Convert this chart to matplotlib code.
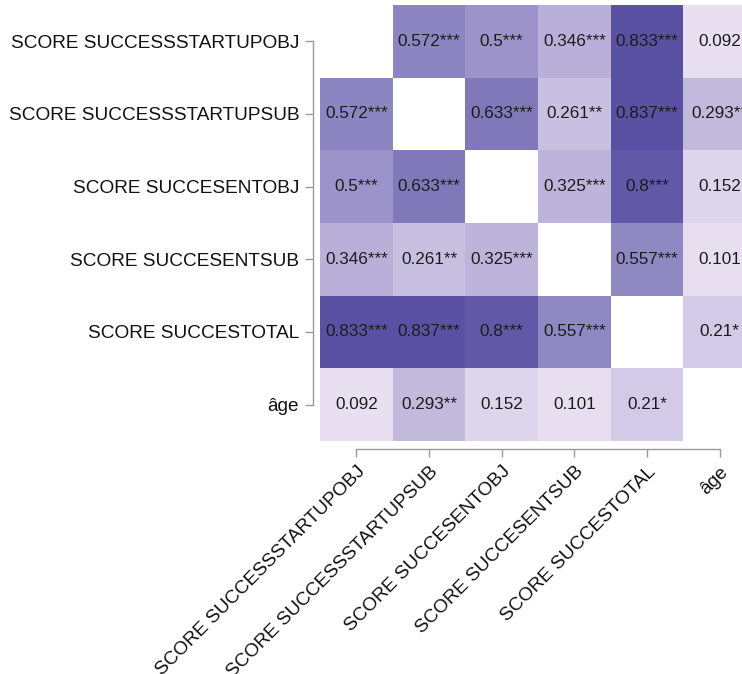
import numpy as np
import matplotlib
matplotlib.use("Agg")
import matplotlib.pyplot as plt
from matplotlib.colors import LinearSegmentedColormap

plt.rcParams['font.family'] = ['Liberation Sans', 'DejaVu Sans']

labels = ["SCORE SUCCESSSTARTUPOBJ", "SCORE SUCCESSSTARTUPSUB", "SCORE SUCCESENTOBJ",
          "SCORE SUCCESENTSUB", "SCORE SUCCESTOTAL", "âge"]

row_obj = [np.nan, 0.572, 0.5, 0.346, 0.833, 0.092]
row_sub = [0.572, np.nan, 0.633, 0.261, 0.837, 0.293]
row_entobj = [0.5, 0.633, np.nan, 0.325, 0.8, 0.152]
row_entsub = [0.346, 0.261, 0.325, np.nan, 0.557, 0.101]
row_total = [0.833, 0.837, 0.8, 0.557, np.nan, 0.21]
row_age = [0.092, 0.293, 0.152, 0.101, 0.21, np.nan]

stars_obj = ["", "***", "***", "***", "***", ""]
stars_sub = ["***", "", "***", "**", "***", "**"]
stars_entobj = ["***", "***", "", "***", "***", ""]
stars_entsub = ["***", "**", "***", "", "***", ""]
stars_total = ["***", "***", "***", "***", "", "*"]
stars_age = ["", "**", "", "", "*", ""]

corr = np.array([row_obj, row_sub, row_entobj, row_entsub, row_total, row_age])
stars = [stars_obj, stars_sub, stars_entobj, stars_entsub, stars_total, stars_age]

cmap = LinearSegmentedColormap.from_list(
    "purp", [(0.0, "#f9f1fa"), (0.5, "#9b93c9"), (1.0, "#3c3091")])
cmap.set_bad("white")

W, H = 742, 674
fig = plt.figure(figsize=(W / 100, H / 100), dpi=100)
ax = fig.add_axes([320 / W, 1 - 441 / H, 436 / W, 436 / H])

n = len(labels)
ax.pcolormesh(np.arange(n + 1), np.arange(n + 1), np.ma.masked_invalid(corr),
              cmap=cmap, vmin=0, vmax=1, shading="flat")
ax.set_xlim(0, n)
ax.set_ylim(n, 0)

for i in range(n):
    for j in range(n):
        v = corr[i, j]
        if np.isnan(v):
            continue
        txt = f"{v:g}" + stars[i][j]
        ax.text(j + 0.5, i + 0.5, txt, ha="center", va="center",
                fontsize=12.3, color="#1c1c1c")

for s in ["top", "right"]:
    ax.spines[s].set_visible(False)
ax.spines["left"].set_position(("outward", 5))
ax.spines["bottom"].set_position(("outward", 6))
for s in ["left", "bottom"]:
    ax.spines[s].set_color("#9a9a9a")
    ax.spines[s].set_linewidth(1.0)
ax.tick_params(axis="both", colors="#9a9a9a", length=6, width=1.0,
               labelcolor="#111111", labelsize=13.7)
ax.tick_params(axis="y", pad=4)
ax.tick_params(axis="x", pad=4)

ax.set_xticks(np.arange(n) + 0.5)
ax.set_yticks(np.arange(n) + 0.5)
ax.set_xticklabels(labels)
ax.set_yticklabels(labels)
plt.setp(ax.get_xticklabels(), rotation=45, ha="right", va="top",
         rotation_mode="anchor")
ax.spines["left"].set_bounds(0.5, n - 0.5)
ax.spines["bottom"].set_bounds(0.5, n - 0.5)

fig.savefig("out.png", dpi=100)
